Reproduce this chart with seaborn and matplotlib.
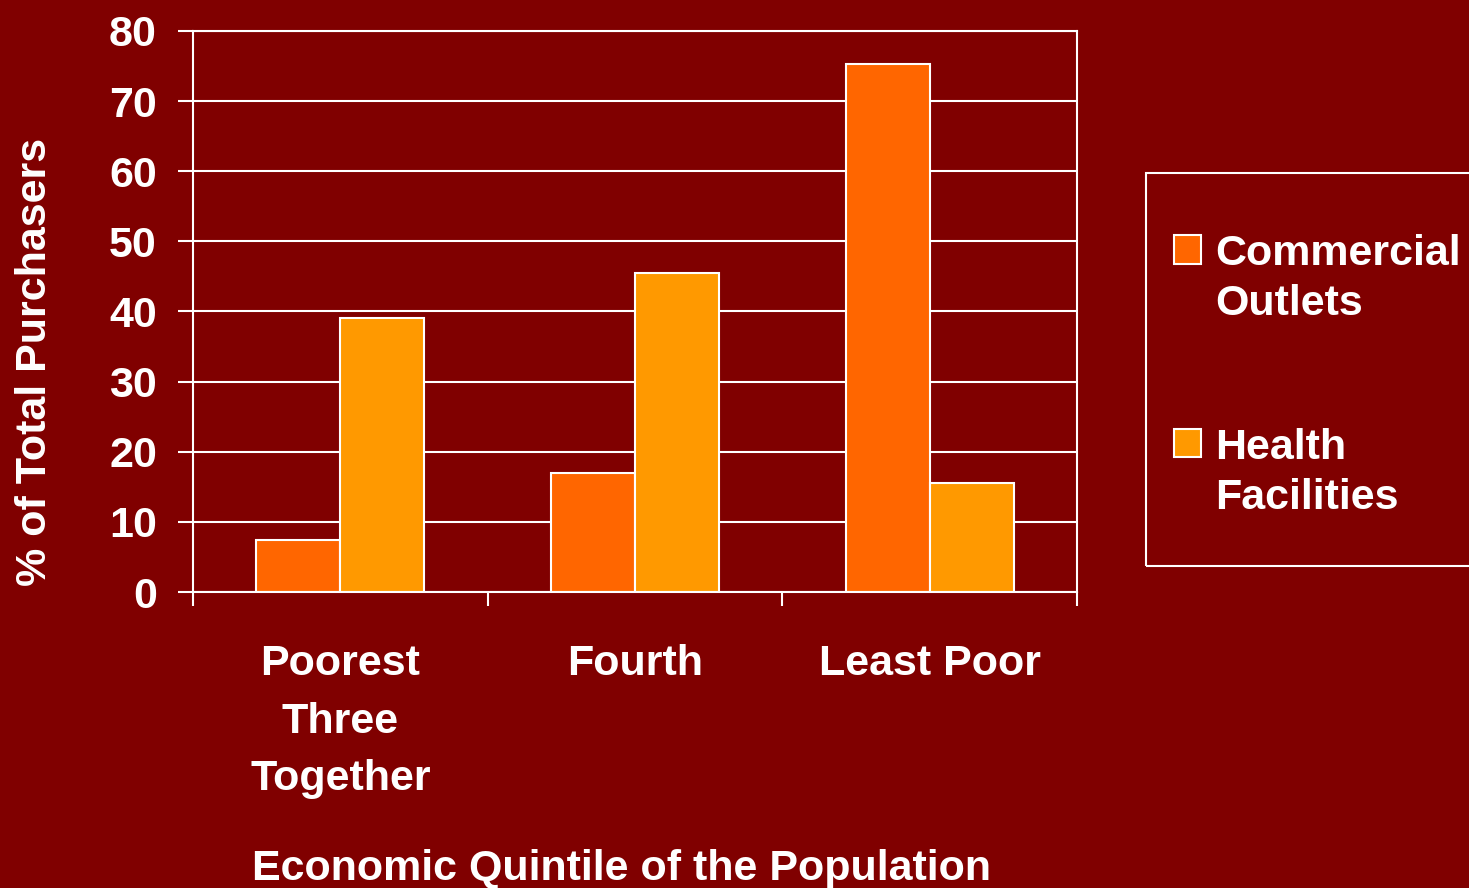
import matplotlib
matplotlib.use("Agg")
import matplotlib.pyplot as plt
import seaborn as sns
import pandas as pd
from matplotlib.patches import Rectangle, Patch
from matplotlib.legend_handler import HandlerPatch

# Data
quintiles = ["Poorest\nThree\nTogether", "Fourth", "Least Poor"]
series = ["Commercial\nOutlets", "Health\nFacilities"]
commercial = [7.4, 17.0, 75.3]
health = [39.1, 45.5, 15.5]
yticks = [0, 10, 20, 30, 40, 50, 60, 70, 80]

BG = "#800000"
palette = ["#FF6600", "#FF9900"]
FS = 31

sns.set_theme(style="white")
plt.rcParams["font.family"] = ["Liberation Sans", "DejaVu Sans"]
plt.rcParams["font.weight"] = "bold"

df = pd.DataFrame({
    "quintile": quintiles * 2,
    "value": commercial + health,
    "source": [series[0]] * len(quintiles) + [series[1]] * len(quintiles),
})

W, H = 1469, 888
fig = plt.figure(figsize=(W / 100, H / 100), dpi=100, facecolor=BG)
ax = fig.add_axes([193 / W, 1 - 592 / H, (1077 - 193) / W, (592 - 31) / H])
ax.set_facecolor(BG)

sns.barplot(data=df, x="quintile", y="value", hue="source",
            order=quintiles, hue_order=series, palette=palette,
            width=0.57, gap=0, saturation=1, edgecolor="white",
            linewidth=1.5, legend=False, ax=ax)

ax.set_xlim(-0.5, len(quintiles) - 0.5)
ax.set_ylim(0, 80)
ax.set_axisbelow(True)
ax.yaxis.grid(True, color="white", linewidth=1.5)
ax.xaxis.grid(False)
for sp in ax.spines.values():
    sp.set_visible(True)
    sp.set_color("white")
    sp.set_linewidth(1.5)

# Ticks at category boundaries, labels at category centres
ax.set_xticks([i - 0.5 for i in range(len(quintiles) + 1)])
ax.set_xticklabels([])
ax.set_xticks(range(len(quintiles)), minor=True)
ax.set_xticklabels(quintiles, minor=True, fontsize=FS, color="white",
                   fontweight="bold", linespacing=1.57)
ax.tick_params(axis="x", which="major", bottom=True, length=10, width=1.5,
               color="white", direction="out")
ax.tick_params(axis="x", which="minor", bottom=True, length=0, pad=37.5)

ax.set_yticks(yticks)
ax.set_yticklabels([str(v) for v in yticks], fontsize=FS, color="white",
                   fontweight="bold")
ax.tick_params(axis="y", left=True, length=11, width=1.5, color="white",
               direction="out", pad=15)
ax.set_xlabel("")
ax.set_ylabel("")

fig.text(35 / W, 1 - 362 / H, "% of Total Purchasers", rotation=90,
         ha="center", va="center", fontsize=FS, color="white",
         fontweight="bold")
fig.text(621 / W, 1 - 880 / H, "Economic Quintile of the Population",
         ha="center", va="baseline", fontsize=FS, color="white",
         fontweight="bold")

# Legend: square sits beside the first line of each two-line label
LINE_STEP = 21.6


def raised_square(legend, orig_handle, xdescent, ydescent, width, height,
                  fontsize):
    return Rectangle((-xdescent, -ydescent + LINE_STEP), width, height)


handles = [Patch(facecolor=c, edgecolor="white", linewidth=1.5)
           for c in palette]
leg = fig.legend(handles, series, loc="upper left",
                 bbox_to_anchor=(1174 / W, 1 - 234 / H),
                 bbox_transform=fig.transFigure, frameon=False,
                 fontsize=FS, handlelength=0.63, handleheight=0.63,
                 handletextpad=0.33, labelspacing=2.4, borderpad=0,
                 borderaxespad=0,
                 handler_map={Patch: HandlerPatch(patch_func=raised_square)})
for t in leg.get_texts():
    t.set_color("white")
    t.set_fontweight("bold")
    t.set_linespacing(1.33)

fig.add_artist(Rectangle((1146 / W, 1 - 566 / H), 400 / W, (566 - 173) / H,
                         transform=fig.transFigure, fill=False,
                         edgecolor="white", linewidth=1.5))

fig.savefig("out.png", dpi=100, facecolor=BG)
